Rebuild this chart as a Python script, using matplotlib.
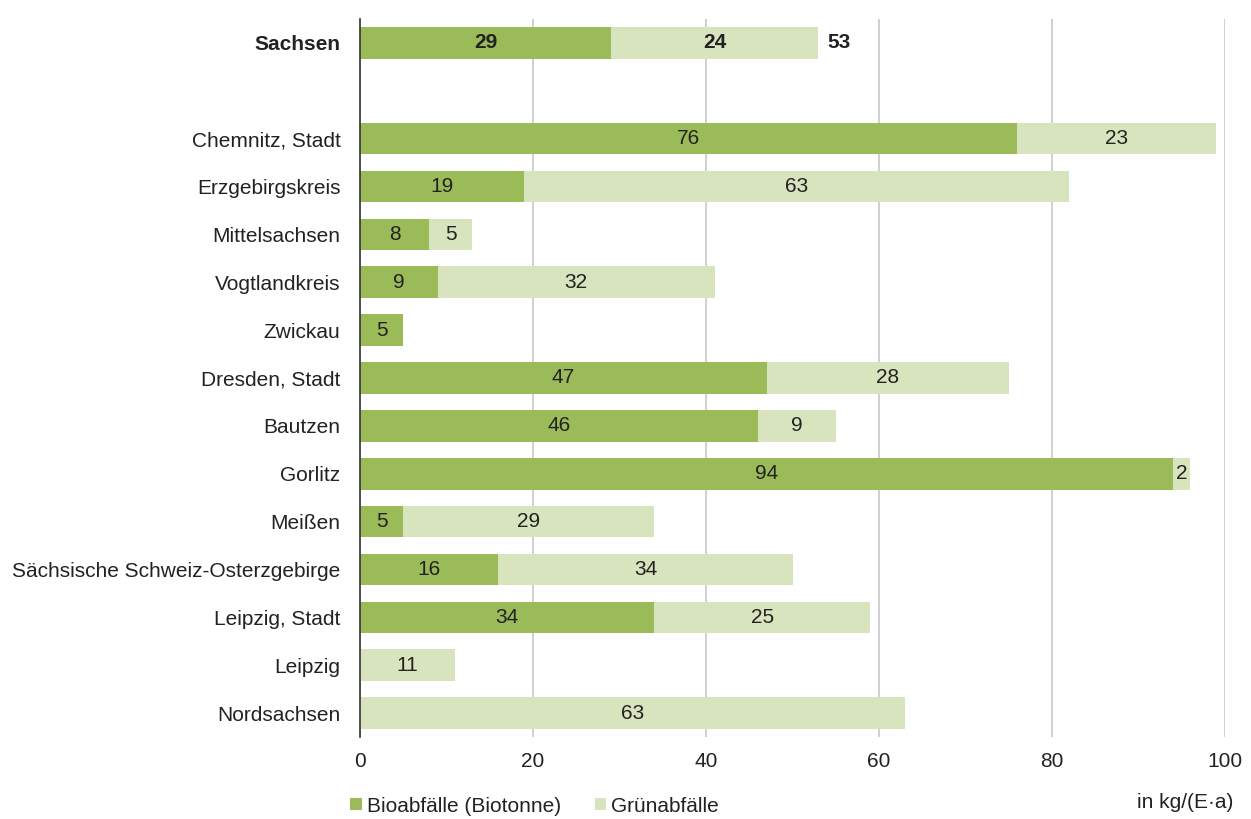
import numpy as np
import matplotlib.pyplot as plt

plt.rcParams['font.family'] = ['Liberation Sans', 'DejaVu Sans']

# Sachsen total first, then the districts
regions = ['Sachsen', 'Chemnitz, Stadt', 'Erzgebirgskreis', 'Mittelsachsen',
           'Vogtlandkreis', 'Zwickau', 'Dresden, Stadt', 'Bautzen', 'Gorlitz',
           'Meißen', 'Sächsische Schweiz-Osterzgebirge', 'Leipzig, Stadt',
           'Leipzig', 'Nordsachsen']
bio = [29, 76, 19, 8, 9, 5, 47, 46, 94, 5, 16, 34, 0, 0]
gruen = [24, 23, 63, 5, 32, 0, 28, 9, 2, 29, 34, 25, 11, 63]

bio = np.array(bio)
gruen = np.array(gruen)

# leave an empty slot between Sachsen and the districts
pos = np.array([0] + list(range(2, len(regions) + 1)))

c_bio = '#9BBB59'
c_gruen = '#D7E4BD'
txt = '#222222'
fs = 15

fig = plt.figure(figsize=(12.51, 8.19), dpi=100)
ax = fig.add_axes([360 / 1251, 1 - 737 / 819, 865 / 1251, 718 / 819])

h = 0.66
ax.barh(pos, bio, height=h, color=c_bio, label='Bioabfälle (Biotonne)', zorder=2)
ax.barh(pos, gruen, left=bio, height=h, color=c_gruen, label='Grünabfälle', zorder=2)

for i, p in enumerate(pos):
    weight = 'bold' if i == 0 else 'normal'
    if bio[i] > 0:
        ax.text(bio[i] / 2, p, str(bio[i]), ha='center', va='center',
                fontsize=fs, color=txt, fontweight=weight, zorder=3)
    if gruen[i] > 0:
        ax.text(bio[i] + gruen[i] / 2, p, str(gruen[i]), ha='center', va='center',
                fontsize=fs, color=txt, fontweight=weight, zorder=3)
    if i == 0:
        ax.text(bio[i] + gruen[i] + 1, p, str(bio[i] + gruen[i]), ha='left',
                va='center', fontsize=fs, color=txt, fontweight='bold', zorder=3)

ax.set_xlim(0, 100)
ax.set_ylim(len(regions) + 0.5, -0.5)
ax.set_xticks(np.arange(0, 101, 20))
ax.set_yticks(pos)
ax.set_yticklabels(regions)
for i, lab in enumerate(ax.get_yticklabels()):
    if i == 0:
        lab.set_fontweight('bold')
ax.tick_params(axis='both', length=0, labelsize=fs, colors=txt)
ax.tick_params(axis='x', pad=11)
ax.tick_params(axis='y', pad=14)

ax.grid(axis='x', color='#C8C8C8', linewidth=1.2, zorder=0)
for s in ['top', 'right', 'bottom']:
    ax.spines[s].set_visible(False)
ax.spines['left'].set_color('#333333')
ax.spines['left'].set_linewidth(1.2)
ax.spines['left'].set_zorder(4)

fig.legend(loc='center left', bbox_to_anchor=(340 / 1251, 1 - 806 / 819), ncol=2,
           frameon=False, fontsize=fs, handlelength=0.55, handleheight=0.55,
           handletextpad=0.25, columnspacing=1.6, labelcolor=txt, borderpad=0)
fig.text(1233 / 1251, 1 - 802 / 819, 'in kg/(E·a)', ha='right', va='center',
         fontsize=fs, color=txt)

fig.savefig('out.png', dpi=100)
